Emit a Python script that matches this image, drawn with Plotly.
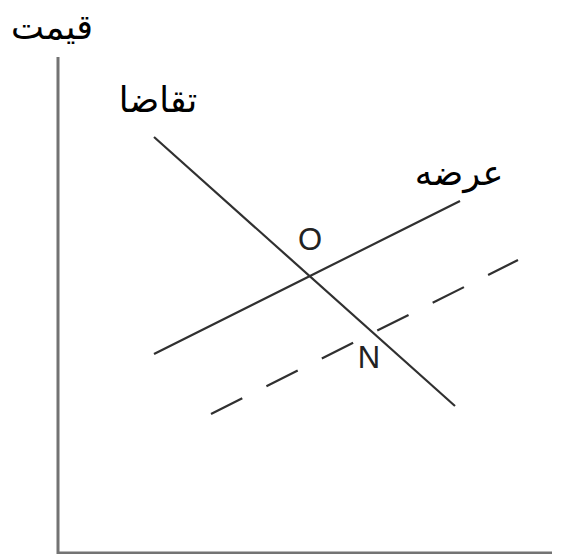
import plotly.graph_objects as go

# Data in chart units (quantity, price); origin at the axes corner
demand_q = [96, 397]
demand_p = [416, 147]
supply_q = [96, 402]
supply_p = [199, 352]
supply2_q = [153, 460]
supply2_p = [139, 293]
axis_q = [0, 0, 494]
axis_p = [496, 0, 0]

labels_text = ["قیمت", "تقاضا", "عرضه"]
labels_q = [-6, 100, 401]
labels_p = [523, 450, 377]
point_text = ["O", "N"]
point_q = [252, 311]
point_p = [311, 193]

fig = go.Figure()
fig.add_trace(go.Scatter(x=axis_q, y=axis_p, mode="lines",
                         line=dict(color="#737373", width=3), hoverinfo="skip"))
fig.add_trace(go.Scatter(x=demand_q, y=demand_p, mode="lines",
                         line=dict(color="#303030", width=2.2), hoverinfo="skip"))
fig.add_trace(go.Scatter(x=supply_q, y=supply_p, mode="lines",
                         line=dict(color="#303030", width=2.2), hoverinfo="skip"))
fig.add_trace(go.Scatter(x=supply2_q, y=supply2_p, mode="lines",
                         line=dict(color="#303030", width=2.2, dash="35px,27px"), hoverinfo="skip"))
fig.add_trace(go.Scatter(x=labels_q, y=labels_p, mode="text", text=labels_text,
                         textfont=dict(family="DejaVu Sans", size=35, color="black"),
                         hoverinfo="skip"))
fig.add_trace(go.Scatter(x=point_q, y=point_p, mode="text", text=point_text,
                         textfont=dict(family="Liberation Sans, Arial", size=31, color="#222222"),
                         hoverinfo="skip"))

fig.update_layout(
    width=573, height=554,
    margin=dict(l=0, r=0, t=0, b=0),
    paper_bgcolor="white", plot_bgcolor="white",
    showlegend=False,
    xaxis=dict(range=[-58, 515], visible=False, fixedrange=True),
    yaxis=dict(range=[-1, 553], visible=False, fixedrange=True),
)
fig.write_html("out.html", config={"displayModeBar": False},
               post_script="document.body.style.margin='0';document.body.style.overflow='hidden';")
